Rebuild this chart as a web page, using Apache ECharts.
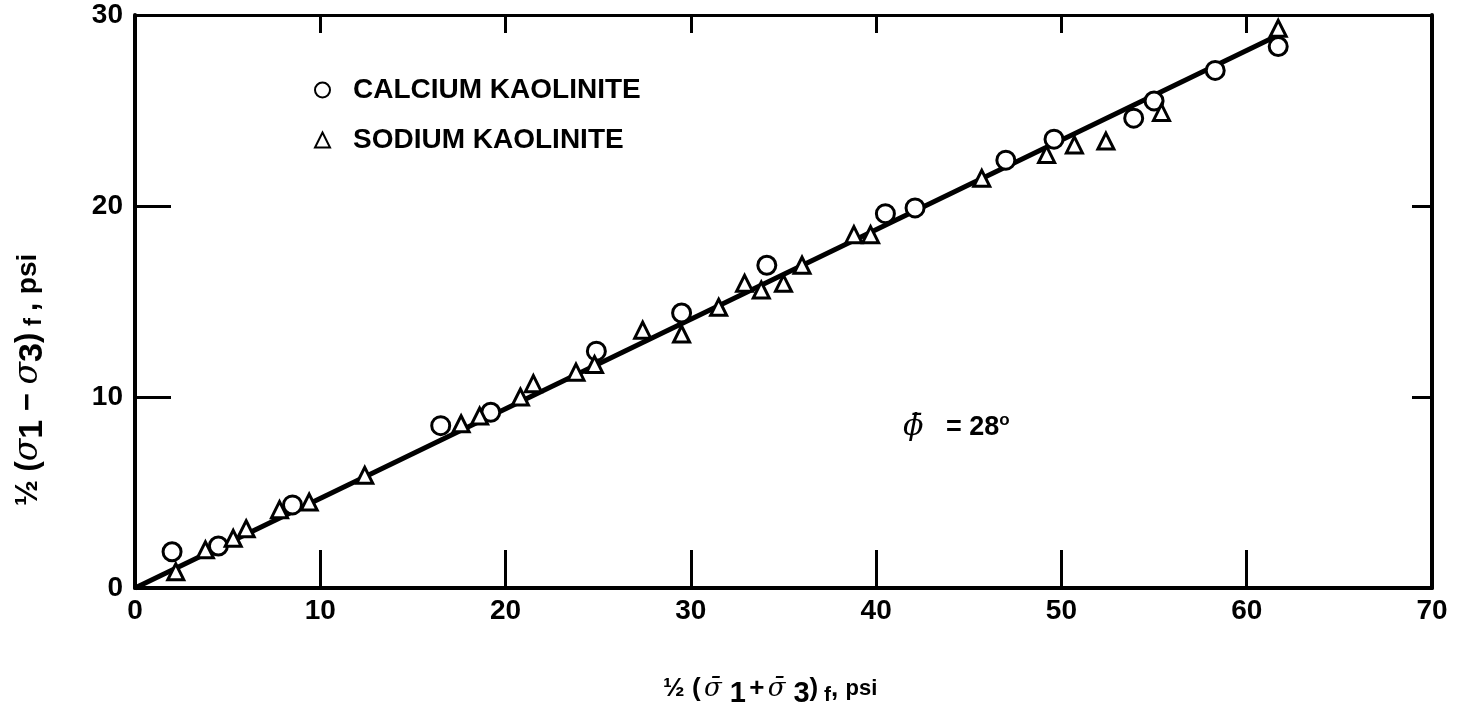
<!DOCTYPE html>
<html><head><meta charset="utf-8">
<script src="https://cdn.jsdelivr.net/npm/echarts@6/dist/echarts.min.js"></script>
<style>html,body{margin:0;padding:0;background:#fff}#c{width:1464px;height:717px}</style>
</head><body><div id="c"></div>
<script>
const calciumX = [2.0, 4.5, 8.5, 16.5, 19.2, 24.9, 29.5, 34.1, 40.5, 42.1, 47.0, 49.6, 53.9, 55.0, 58.3, 61.7];
const calciumY = [1.9, 2.2, 4.35, 8.5, 9.2, 12.4, 14.4, 16.9, 19.6, 19.9, 22.4, 23.5, 24.6, 25.5, 27.1, 28.35];
const sodiumX = [2.2, 3.8, 5.3, 6.0, 7.8, 9.4, 12.4, 17.6, 18.6, 20.8, 21.5, 23.8, 24.8, 27.4, 29.5, 31.5, 32.9, 33.8, 35.0, 36.0, 38.8, 39.7, 45.7, 49.2, 50.7, 52.4, 55.4, 61.7];
const sodiumY = [0.85, 2.0, 2.6, 3.1, 4.1, 4.5, 5.9, 8.6, 9.0, 10.0, 10.7, 11.3, 11.7, 13.5, 13.3, 14.7, 15.95, 15.6, 15.95, 16.9, 18.5, 18.5, 21.45, 22.7, 23.2, 23.4, 24.9, 29.3];
const fitX = [0, 61.5];
const fitY = [0, 28.85];
const seriesNames = ['CALCIUM KAOLINITE', 'SODIUM KAOLINITE'];

const FONT = "'Liberation Sans', Arial, sans-serif";
const SERIF = "'DejaVu Serif', serif";
const zip = (a, b) => a.map((v, i) => [v, b[i]]);
const chart = echarts.init(document.getElementById('c'), null, {renderer: 'canvas'});
const mk = (pos, lw, tickLen, isX) => ({
  type: 'value', position: pos, min: 0, max: isX ? 70 : 30, interval: 10,
  axisLine: {show: true, onZero: false, lineStyle: {color: '#000', width: lw}},
  axisTick: {show: true, inside: true, length: tickLen, lineStyle: {color: '#000', width: 3}},
  splitLine: {show: false},
  axisLabel: {show: false}
});
const xb = mk('bottom', 4, 38, true);
xb.axisLabel = {show: true, color: '#000', fontSize: 28, fontWeight: 'bold', fontFamily: FONT, margin: 9};
const xt = mk('top', 3, 18, true);
const yl = mk('left', 4, 36, false);
yl.axisLabel = {show: true, color: '#000', fontSize: 28, fontWeight: 'bold', fontFamily: FONT, margin: 12};
const yr = mk('right', 4, 20, false);

chart.setOption({
  animation: false,
  backgroundColor: '#fff',
  grid: {left: 135, right: 32, top: 15, bottom: 129, containLabel: false},
  xAxis: [xb, xt],
  yAxis: [yl, yr],
  legend: {
    orient: 'vertical', left: 309, top: 71, itemGap: 22, itemWidth: 15, itemHeight: 15,
    data: seriesNames,
    textStyle: {color: '#000', fontSize: 28, fontWeight: 'bold', fontFamily: FONT, padding: [0, 0, 0, 18]}
  },
  series: [
    {type: 'line', xAxisIndex: 0, yAxisIndex: 0, data: zip(fitX, fitY), symbol: 'none',
     lineStyle: {color: '#000', width: 5}, z: 2, silent: true},
    {name: seriesNames[0], type: 'scatter', data: zip(calciumX, calciumY), symbol: 'circle', symbolSize: 18,
     itemStyle: {color: '#fff', borderColor: '#000', borderWidth: 3, opacity: 1}, z: 3},
    {name: seriesNames[1], type: 'scatter', data: zip(sodiumX, sodiumY), symbol: 'triangle', symbolSize: 16,
     itemStyle: {color: '#fff', borderColor: '#000', borderWidth: 3, opacity: 1}, z: 4}
  ],
  graphic: [
    {type: 'text', left: 663, top: 676, style: {
      text: '{a|½ (} {s|σ̄}{b| 1} {a|+} {s|σ̄}{b| 3}{a|)}{f| f}{a|, }{p|psi}',
      rich: {
        a: {fontSize: 26, fontWeight: 'bold', fontFamily: FONT, fill: '#000'},
        s: {fontSize: 26, fontStyle: 'italic', fontFamily: SERIF, fill: '#000'},
        b: {fontSize: 29, fontWeight: 'bold', fontFamily: FONT, fill: '#000', padding: [10, 0, 0, 0]},
        f: {fontSize: 21, fontWeight: 'bold', fontFamily: FONT, fill: '#000', padding: [12, 0, 0, 0]},
        p: {fontSize: 22, fontWeight: 'bold', fontFamily: FONT, fill: '#000'}
      }}},
    {type: 'text', x: 6, y: 506, rotation: Math.PI / 2, style: {
      text: '{a|½ (}{s|σ}{b|1}{a| − }{s|σ}{b|3}{a|)}{f| f }{a|, }{p|psi}',
      rich: {
        a: {fontSize: 31, fontWeight: 'bold', fontFamily: FONT, fill: '#000'},
        s: {fontSize: 33, fontStyle: 'italic', fontFamily: SERIF, fill: '#000'},
        b: {fontSize: 34, fontWeight: 'bold', fontFamily: FONT, fill: '#000', padding: [10, 0, 0, 0]},
        f: {fontSize: 24, fontWeight: 'bold', fontFamily: FONT, fill: '#000', padding: [12, 0, 0, 0]},
        p: {fontSize: 28, fontWeight: 'bold', fontFamily: FONT, fill: '#000'}
      }}},
    {type: 'text', left: 903, top: 412, style: {
      text: '{s|ϕ̄}{a|   = 28}{o|o}',
      rich: {
        s: {fontSize: 30, fontStyle: 'italic', fontFamily: SERIF, fill: '#000'},
        a: {fontSize: 27, fontWeight: 'bold', fontFamily: FONT, fill: '#000'},
        o: {fontSize: 17, fontWeight: 'bold', fontFamily: FONT, fill: '#000', padding: [0, 0, 14, 0]}
      }}}
  ]
});
</script></body></html>
